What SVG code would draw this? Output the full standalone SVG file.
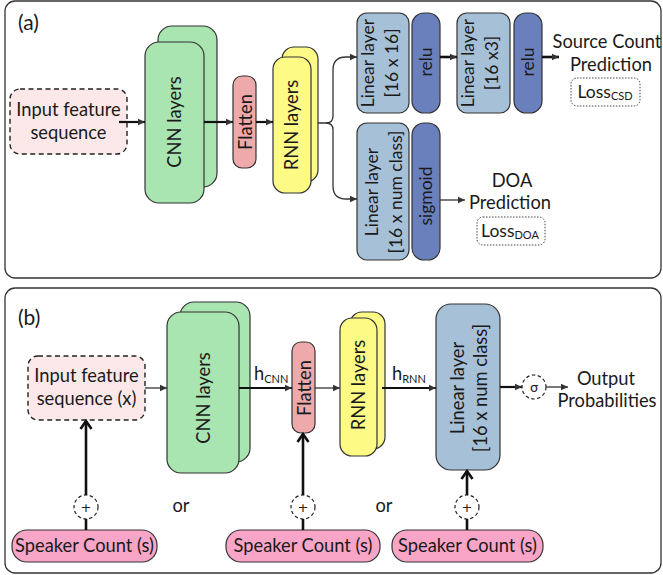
<svg xmlns="http://www.w3.org/2000/svg" width="663" height="575" viewBox="0 0 663 575">
<defs>
<style>
text{font-family:Lato,"Open Sans","Liberation Sans",sans-serif;fill:#1a1a1a;}
.t17{font-size:18.3px;}
.t16{font-size:17.5px;}
.lbl{font-size:21px;}
.panel{fill:#fff;stroke:#333;stroke-width:1.3;}
.inp{fill:#fce8e8;stroke:#222;stroke-width:1.4;stroke-dasharray:5 3.5;}
.cnn{fill:#a9e5b1;stroke:#333;stroke-width:1.2;}
.fla{fill:#eeaaaa;stroke:#333;stroke-width:1.2;}
.rnn{fill:#fdfb86;stroke:#333;stroke-width:1.2;}
.lin{fill:#a6c0d8;stroke:#333;stroke-width:1.2;}
.act{fill:#6a80bd;stroke:#333;stroke-width:1.2;}
.spk{fill:#f8a5c7;stroke:#333;stroke-width:1.2;}
.loss{fill:#fff;stroke:#444;stroke-width:1;stroke-dasharray:1.5 1.5;}
.circ{fill:#fff;stroke:#222;stroke-width:1.2;stroke-dasharray:3.5 2.5;}
.sym{font-family:"DejaVu Sans",sans-serif;font-size:13px;fill:#222;}
.c1{fill:none;stroke:#333;stroke-width:1.3;}
.c2{fill:none;stroke:#111;stroke-width:2.2;}
.c3{fill:none;stroke:#111;stroke-width:2.6;}
</style>
<marker id="ah" markerUnits="userSpaceOnUse" markerWidth="8" markerHeight="8" refX="7" refY="4" orient="auto">
<path d="M0,0.8 L7,4 L0,7.2 z" fill="#333"/>
</marker>
<marker id="chev" markerUnits="userSpaceOnUse" markerWidth="14" markerHeight="14" refX="10" refY="7" orient="auto">
<path d="M2,1.5 L10,7 L2,12.5" fill="none" stroke="#111" stroke-width="2.6"/>
</marker>
</defs>

<rect class="panel" x="5" y="1" width="656" height="277" rx="10"/>
<rect class="panel" x="5" y="288" width="656" height="285" rx="10"/>
<text class="lbl" x="18" y="30">(a)</text>
<text class="lbl" x="18" y="325">(b)</text>

<!-- Panel (a) nodes -->
<g id="a-input">
<rect class="inp" x="10" y="89" width="117" height="65" rx="10"/>
<text class="t17" x="68.5" y="116" text-anchor="middle">Input feature</text>
<text class="t17" x="68.5" y="139" text-anchor="middle">sequence</text>
</g>
<g id="a-cnn">
<rect class="cnn" x="158" y="26" width="59" height="161" rx="14"/>
<rect class="cnn" x="145" y="42" width="59" height="161" rx="14"/>
<text class="t17" transform="translate(174,122) rotate(-90)" y="7" text-anchor="middle">CNN layers</text>
</g>
<g id="a-flatten">
<rect class="fla" x="233" y="76" width="23" height="92" rx="9"/>
<text class="t17" transform="translate(245,122) rotate(-90)" y="7" text-anchor="middle">Flatten</text>
</g>
<g id="a-rnn">
<rect class="rnn" x="282" y="47" width="36" height="135" rx="12"/>
<rect class="rnn" x="273" y="57" width="38" height="136" rx="12"/>
<text class="t17" transform="translate(291,125) rotate(-90)" y="7" text-anchor="middle">RNN layers</text>
</g>
<g id="a-lin1">
<rect class="lin" x="357" y="13" width="52" height="100" rx="10"/>
<text class="t16" transform="translate(383,63) rotate(-90)" text-anchor="middle"><tspan x="0" y="-9">Linear layer</tspan><tspan x="0" y="15">[16 x 16]</tspan></text>
</g>
<g id="a-relu1">
<rect class="act" x="412" y="13" width="28" height="100" rx="12"/>
<text class="t16" transform="translate(426,62) rotate(-90)" y="6" text-anchor="middle">relu</text>
</g>
<g id="a-lin2">
<rect class="lin" x="457" y="13" width="53" height="100" rx="10"/>
<text class="t16" transform="translate(483,63) rotate(-90)" text-anchor="middle"><tspan x="0" y="-9">Linear layer</tspan><tspan x="0" y="15">[16 x3]</tspan></text>
</g>
<g id="a-relu2">
<rect class="act" x="514" y="13" width="28" height="100" rx="12"/>
<text class="t16" transform="translate(528,62) rotate(-90)" y="6" text-anchor="middle">relu</text>
</g>
<g id="a-csd">
<text class="t17" x="607" y="48" text-anchor="middle">Source Count</text>
<text class="t17" x="611" y="71" text-anchor="middle">Prediction</text>
<rect class="loss" x="571" y="78" width="69" height="28" rx="6"/>
<text class="t16" x="605" y="98" text-anchor="middle">Loss<tspan font-size="11" dy="2">CSD</tspan></text>
</g>
<g id="a-lin3">
<rect class="lin" x="357" y="123" width="52" height="137" rx="10"/>
<text class="t16" transform="translate(383,192) rotate(-90)" text-anchor="middle"><tspan x="0" y="-5">Linear layer</tspan><tspan x="0" y="19">[16 x num class]</tspan></text>
</g>
<g id="a-sigmoid">
<rect class="act" x="412" y="123" width="28" height="137" rx="12"/>
<text class="t16" transform="translate(426,196) rotate(-90)" y="6" text-anchor="middle">sigmoid</text>
</g>
<g id="a-doa">
<text class="t17" x="512" y="187" text-anchor="middle">DOA</text>
<text class="t17" x="510" y="209" text-anchor="middle">Prediction</text>
<rect class="loss" x="477" y="217" width="68" height="28" rx="6"/>
<text class="t16" x="510" y="237" text-anchor="middle">Loss<tspan font-size="11" dy="2">DOA</tspan></text>
</g>

<!-- Panel (b) nodes -->
<g id="b-input">
<rect class="inp" x="28" y="356" width="117" height="64" rx="10"/>
<text class="t17" x="86.5" y="382" text-anchor="middle">Input feature</text>
<text class="t17" x="86.5" y="405" text-anchor="middle">sequence (x)</text>
</g>
<g id="b-cnn">
<rect class="cnn" x="180" y="302" width="70" height="160" rx="14"/>
<rect class="cnn" x="167" y="312" width="72" height="161" rx="14"/>
<text class="t17" transform="translate(203,398) rotate(-90)" y="7" text-anchor="middle">CNN layers</text>
</g>
<g id="b-flatten">
<rect class="fla" x="292" y="342" width="23" height="91" rx="9"/>
<text class="t17" transform="translate(304,388) rotate(-90)" y="7" text-anchor="middle">Flatten</text>
</g>
<g id="b-rnn">
<rect class="rnn" x="350" y="312" width="35" height="137" rx="12"/>
<rect class="rnn" x="340" y="318" width="37" height="138" rx="12"/>
<text class="t17" transform="translate(358,385) rotate(-90)" y="7" text-anchor="middle">RNN layers</text>
</g>
<g id="b-linear">
<rect class="lin" x="436" y="304" width="64" height="166" rx="15"/>
<text class="t17" transform="translate(468,388) rotate(-90)" text-anchor="middle"><tspan x="0" y="-4">Linear layer</tspan><tspan x="0" y="19">[16 x num class]</tspan></text>
</g>
<g id="b-sigma">
<circle class="circ" cx="534" cy="387" r="12"/>
<text class="sym" x="534" y="391.5" text-anchor="middle">σ</text>
</g>
<g id="b-output">
<text class="t17" x="606" y="385" text-anchor="middle">Output</text>
<text class="t17" x="607" y="407" text-anchor="middle">Probabilities</text>
</g>
<g id="b-plus1">
<circle class="circ" cx="86" cy="507" r="12"/>
<text class="sym" x="86" y="511.5" text-anchor="middle">+</text>
</g>
<g id="b-plus2">
<circle class="circ" cx="303" cy="507" r="12"/>
<text class="sym" x="303" y="511.5" text-anchor="middle">+</text>
</g>
<g id="b-plus3">
<circle class="circ" cx="467" cy="507" r="12"/>
<text class="sym" x="467" y="511.5" text-anchor="middle">+</text>
</g>
<g id="b-spk1">
<rect class="spk" x="12" y="530" width="145" height="32" rx="15"/>
<text class="t17" x="84.5" y="552" text-anchor="middle">Speaker Count (s)</text>
</g>
<g id="b-spk2">
<rect class="spk" x="226" y="530" width="154" height="32" rx="15"/>
<text class="t17" x="303" y="552" text-anchor="middle">Speaker Count (s)</text>
</g>
<g id="b-spk3">
<rect class="spk" x="392" y="530" width="151" height="32" rx="15"/>
<text class="t17" x="467.5" y="552" text-anchor="middle">Speaker Count (s)</text>
</g>
<text class="t17" x="181" y="512" text-anchor="middle">or</text>
<text class="t17" x="384" y="512" text-anchor="middle">or</text>
<text class="t17" x="254" y="380">h<tspan font-size="11" dy="3">CNN</tspan></text>
<text class="t17" x="392" y="380">h<tspan font-size="11" dy="3">RNN</tspan></text>

<!-- Connectors -->
<g id="connectors">
<path class="c2" d="M119,122 H145" marker-end="url(#ah)"/>
<path class="c2" d="M204,122 H233" marker-end="url(#ah)"/>
<path class="c2" d="M256,122 H273" marker-end="url(#ah)"/>
<path class="c1" d="M318,123 H326 Q333,123 333,116 V70 Q333,57 346,57 H357" marker-end="url(#ah)"/>
<path class="c1" d="M326,123 Q333,123 333,130 V186 Q333,199 346,199 H357" marker-end="url(#ah)"/>
<path class="c3" d="M440,57 H457" marker-end="url(#ah)"/>
<path class="c3" d="M542,57 H559" marker-end="url(#ah)"/>
<path class="c1" d="M440,200 H465" marker-end="url(#ah)"/>

<path class="c1" d="M145,388 H167" marker-end="url(#ah)"/>
<path class="c2" d="M239,388 H292" marker-end="url(#ah)"/>
<path class="c1" d="M315,388 H340" marker-end="url(#ah)"/>
<path class="c2" d="M382,388 H436" marker-end="url(#ah)"/>
<path class="c2" d="M500,387 H522" marker-end="url(#ah)"/>
<path class="c1" d="M546,387 H568" marker-end="url(#ah)"/>

<path class="c3" d="M86,530 V519"/>
<path class="c3" d="M86,495 V421" marker-end="url(#chev)"/>
<path class="c3" d="M303,530 V519"/>
<path class="c3" d="M303,495 V434" marker-end="url(#chev)"/>
<path class="c3" d="M467,530 V519"/>
<path class="c3" d="M467,495 V471" marker-end="url(#chev)"/>
</g>
</svg>
